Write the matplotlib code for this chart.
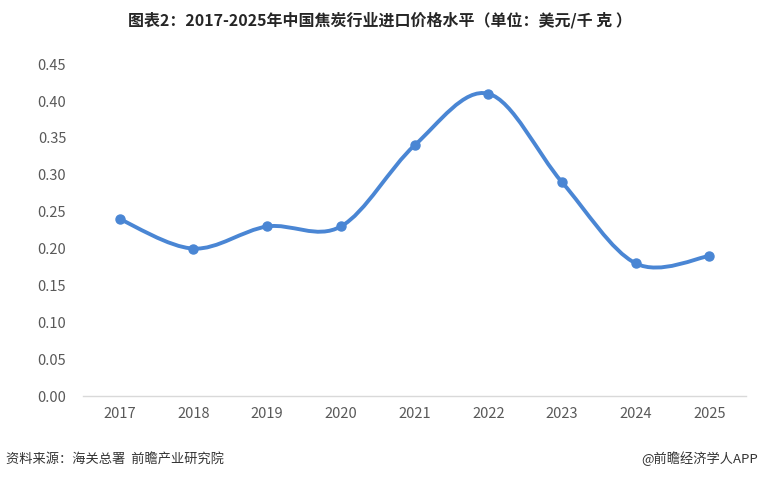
import matplotlib
matplotlib.use("Agg")
import matplotlib.pyplot as plt
import numpy as np
from matplotlib.path import Path
from matplotlib.patches import PathPatch

plt.rcParams['font.family'] = ['Noto Sans CJK SC', 'DejaVu Sans']

years = ['2017', '2018', '2019', '2020', '2021', '2022', '2023', '2024', '2025']
prices = [0.24, 0.20, 0.23, 0.23, 0.34, 0.41, 0.29, 0.18, 0.19]
yticks = [0.00, 0.05, 0.10, 0.15, 0.20, 0.25, 0.30, 0.35, 0.40, 0.45]

color = '#4a86d4'

fig = plt.figure(figsize=(7.6, 4.79), dpi=100)
ax = fig.add_axes([0.109, 0.173, 0.873, 0.693])

x = np.arange(len(years))
y = np.array(prices)

# Excel-like smooth line: Catmull-Rom converted to cubic Bezier segments
verts = [(x[0], y[0])]
codes = [Path.MOVETO]
n = len(x)
for i in range(n - 1):
    p0 = np.array([x[max(i - 1, 0)], y[max(i - 1, 0)]])
    p1 = np.array([x[i], y[i]])
    p2 = np.array([x[i + 1], y[i + 1]])
    p3 = np.array([x[min(i + 2, n - 1)], y[min(i + 2, n - 1)]])
    c1 = p1 + (p2 - p0) / 6.0
    c2 = p2 - (p3 - p1) / 6.0
    verts += [tuple(c1), tuple(c2), tuple(p2)]
    codes += [Path.CURVE4, Path.CURVE4, Path.CURVE4]
path = Path(verts, codes)
ax.add_patch(PathPatch(path, facecolor='none', edgecolor=color, lw=2.8,
                       capstyle='round', joinstyle='round', zorder=3))
ax.plot(x, y, 'o', color=color, markersize=6.5, zorder=4)

ax.set_xlim(-0.5, len(years) - 0.5)
ax.set_ylim(0, 0.45)
ax.set_xticks(x)
ax.set_xticklabels(years)
ax.set_yticks(yticks)
ax.set_yticklabels([f'{v:.2f}' for v in yticks])
ax.tick_params(axis='both', length=0, labelsize=10.5, colors='#595959')
ax.tick_params(axis='x', pad=8)
ax.tick_params(axis='y', pad=12)
for s in ['top', 'right', 'left']:
    ax.spines[s].set_visible(False)
ax.spines['bottom'].set_color('#d9d9d9')
ax.spines['bottom'].set_linewidth(1.0)

fig.text(0.5, 0.958, '图表2：2017-2025年中国焦炭行业进口价格水平（单位：美元/千 克 ）',
         ha='center', va='center', fontsize=11.5, fontweight='bold', color='#262626')
fig.text(0.008, 0.042, '资料来源：海关总署  前瞻产业研究院', ha='left', va='center',
         fontsize=9.5, color='#333333')
fig.text(0.998, 0.042, '@前瞻经济学人APP', ha='right', va='center',
         fontsize=9.5, color='#333333')

fig.savefig('out.png', dpi=100, facecolor='white')
